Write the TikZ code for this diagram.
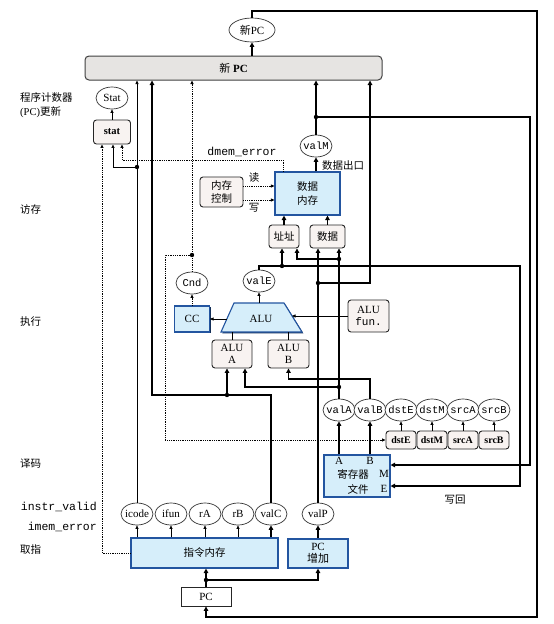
\documentclass[tikz,border=0pt]{standalone}
\usepackage{fontspec}
\setmainfont{Liberation Serif}
\setmonofont{Liberation Mono}
\newfontfamily\cjk{Noto Sans CJK SC}
\usetikzlibrary{arrows.meta,shadows,shapes.geometric}
\definecolor{hwfill}{RGB}{214,238,250}
\definecolor{hwblue}{RGB}{35,85,160}
\definecolor{ctlfill}{RGB}{248,243,241}
\definecolor{pcfill}{RGB}{230,228,226}
\begin{document}
\begin{tikzpicture}[x=1pt,y=-1pt,
  every node/.style={font=\fontsize{11}{11.5}\selectfont, inner sep=0pt},
  hw/.style={draw=hwblue, fill=hwfill, line width=1.1pt, align=center,
     drop shadow={shadow xshift=1.4pt, shadow yshift=-1.4pt, fill=hwblue!55!black, opacity=1}},
  ctl/.style={draw=black!85, fill=ctlfill, line width=0.9pt, rounded corners=3pt, align=center},
  cjkf/.style={font=\cjk\fontsize{10.5}{13.5}\selectfont},
  sig/.style={ellipse, draw=black!80, fill=white, line width=0.7pt, minimum width=32pt, minimum height=22pt, inner xsep=-3pt, inner ysep=0pt, font=\fontsize{11}{11.5}\selectfont},
  tsig/.style={sig, font=\ttfamily\fontsize{10.5}{11}\selectfont},
  small/.style={ctl, minimum width=30pt, minimum height=18pt, font=\bfseries\fontsize{10}{11}\selectfont},
  side/.style={anchor=west, font=\cjk\fontsize{10.5}{12}\selectfont},
  ttlab/.style={font=\ttfamily\fontsize{11.5}{12}\selectfont},
  bus/.style={line width=1.7pt},
  busa/.style={bus, -{Triangle[length=4.5pt,width=4.5pt]}},
  wire/.style={line width=0.7pt},
  wirea/.style={wire, -{Triangle[length=3.5pt,width=3pt]}},
  bitw/.style={line width=0.8pt, densely dotted},
  bita/.style={bitw, -{Triangle[length=3.5pt,width=3pt]}},
  jdot/.style={fill=black}
]
\useasboundingbox (0,0) rectangle (554,624);
\fill[white] (0,0) rectangle (554,624);

% ---------- side labels ----------
\node[side] (l1) at (20,97) {程序计数器};
\node[anchor=west, font=\fontsize{10.5}{12}\selectfont] (l2) at (20,112) {(PC){\cjk 更新}};
\node[side] (l3) at (20,210) {访存};
\node[side] (l4) at (20,322) {执行};
\node[side] (l5) at (20,464) {译码};
\node[ttlab, anchor=east] (l6) at (97,507) {instr\_valid};
\node[ttlab, anchor=east] (l7) at (97,527) {imem\_error};
\node[side] (l8) at (20,550) {取指};

% ---------- PC update ----------
\node[draw=black!75, fill=pcfill, rounded corners=4pt, line width=1pt,
      minimum width=297pt, minimum height=24pt] (newpc) at (233.5,68) {{\cjk 新} \textbf{PC}};
\node[sig, minimum width=46pt, minimum height=24pt] (newpcE) at (252,30) {{\cjk 新}PC};
\node[sig] (StatE) at (112,98) {Stat};
\node[ctl, minimum width=37pt, minimum height=24pt, font=\bfseries\fontsize{10.5}{11}\selectfont] (stat) at (112,132) {stat};

% ---------- memory ----------
\node[ctl, cjkf, minimum width=43pt, minimum height=30pt] (memctl) at (221.5,192) {内存\\控制};
\node[hw, cjkf, minimum width=65pt, minimum height=43pt] (dmem) at (307.5,193.5) {数据\\内存};
\node[tsig] (valM) at (316,146) {valM};
\node[ctl, cjkf, minimum width=30pt, minimum height=23pt] (addr) at (284,236.5) {址址};
\node[ctl, cjkf, minimum width=35pt, minimum height=23pt] (data) at (327.5,236.5) {数据};
\node[ttlab] (dmerr) at (242,152) {dmem\_error};
\node[cjkf] (rd) at (254,178) {读};
\node[cjkf] (wr) at (254,208) {写};
\node[cjkf] (dout) at (343,166) {数据出口};

% ---------- execute ----------
\node[tsig] (Cnd) at (192,283) {Cnd};
\node[tsig] (valE) at (259,281) {valE};
\node[hw, minimum width=35pt, minimum height=26pt] (CC) at (192,319) {CC};
\coordinate (aluBL) at (221,332);
\coordinate (aluTL) at (234,303);
\coordinate (aluTR) at (284,303);
\coordinate (aluBR) at (302,332);
\path[hw] (aluBL) -- (aluTL) -- (aluTR) -- (aluBR) -- cycle;
\node (alu) at (261,319) {ALU};
\coordinate (aluT) at (259,303);
\coordinate (aluL) at (226.8,319);
\coordinate (aluR) at (292,316);
\node[ctl, minimum width=40pt, minimum height=28pt] (aluA) at (232,354) {ALU\\A};
\node[ctl, minimum width=41pt, minimum height=28pt] (aluB) at (288.5,354) {ALU\\B};
\node[ctl, minimum width=41pt, minimum height=32pt] (aluf) at (368.5,316) {ALU\\\texttt{fun.}};

% ---------- decode ----------
\node[tsig] (valA) at (339,410) {valA};
\node[tsig] (valB) at (370,410) {valB};
\node[tsig] (dstE) at (401,410) {dstE};
\node[tsig] (dstM) at (432,410) {dstM};
\node[tsig] (srcA) at (463,410) {srcA};
\node[tsig] (srcB) at (494,410) {srcB};
\node[small] (dstEb) at (401,440) {dstE};
\node[small] (dstMb) at (432,440) {dstM};
\node[small] (srcAb) at (463,440) {srcA};
\node[small] (srcBb) at (494,440) {srcB};
\node[hw, minimum width=66pt, minimum height=42pt] (regfile) at (357,476) {};
\node (rfA) at (339,461) {A};
\node (rfB) at (370,461) {B};
\node[cjkf] (rfT) at (353,474) {寄存器};
\node (rfM) at (384,474) {M};
\node[cjkf] (rfF) at (358,489) {文件};
\node (rfE) at (384,489) {E};
\node[cjkf] (wb) at (455,500) {写回};

% ---------- fetch ----------
\node[hw, cjkf, minimum width=147pt, minimum height=30pt] (imem) at (204.5,553) {指令内存};
\node[hw, minimum width=60pt, minimum height=29pt] (pcinc) at (318,553.5) {PC\\{\cjk 增加}};
\node[sig] (icode) at (137,514) {icode};
\node[sig] (ifun) at (171,514) {ifun};
\node[sig] (rA) at (205,514) {rA};
\node[sig] (rB) at (238,514) {rB};
\node[sig] (valC) at (271,514) {valC};
\node[sig] (valP) at (318,514) {valP};
\node[draw=black!85, fill=white, line width=0.9pt, minimum width=50pt, minimum height=19pt] (PC) at (206,596.5) {PC};

% ---------- junctions and bends ----------
\coordinate (topL) at (252,11);
\coordinate (topR) at (537,11);
\coordinate (botR) at (537,617);
\coordinate (botL) at (206,617);
\coordinate (jpc) at (206,580);
\coordinate (jic) at (137,167);
\coordinate (dmc) at (283,160);
\coordinate (vc1) at (271,395);
\coordinate (vc2) at (152,395);
\coordinate (jvc) at (227,395);
\coordinate (jva1) at (339,387);
\coordinate (jva2) at (339,259);
\coordinate (vb1) at (370,379);
\coordinate (jvp) at (318,283);
\coordinate (vp2) at (370,283);
\coordinate (ve1) at (259,266);
\coordinate (ve2) at (520,266);
\coordinate (jve) at (282,266);
\coordinate (jvm) at (316,117);
\coordinate (vm2) at (530,117);
\coordinate (jcnd) at (192,255);
\coordinate (cn2) at (165,255);

% ---------- wires ----------
\draw[busa] (newpcE.south |- newpc.north) -- (newpcE.south);
\draw[busa] (newpcE.north) -- (topL) -- (topR) -- (botR) -- (botL) -- (PC.south);
\draw[bus] (PC.north) -- (jpc);
\draw[busa] (jpc) -- (jpc |- imem.south);
\draw[busa] (jpc) -| (pcinc.south);

\draw[wirea] (icode.south |- imem.north) -- (icode.south);
\draw[wirea] (ifun.south |- imem.north) -- (ifun.south);
\draw[wirea] (rA.south |- imem.north) -- (rA.south);
\draw[wirea] (rB.south |- imem.north) -- (rB.south);
\draw[busa] (valC.south |- imem.north) -- (valC.south);
\draw[busa] (pcinc.north) -- (valP.south);

% icode
\draw[wirea] (icode.north) -- (icode.north |- newpc.south);
\draw[wirea] (jic) -| ([xshift=1pt]stat.south);
% imem_error / instr_valid
\draw[bita] (imem.west) -| ([xshift=-10pt]stat.south);
% dmem_error
\draw[bita] (dmem.north -| dmc) -- (dmc) -| ([xshift=10pt]stat.south);
\draw[wirea] (stat.north) -- (StatE.south);

% valC
\draw[busa] (valC.north) -- (vc1) -- (vc2) -- (vc2 |- newpc.south);
\draw[busa] (jvc) -- (jvc |- aluA.south);

% valA
\draw[busa] (valA.north) -- (valA.north |- data.south);
\draw[busa] (jva1) -| ([xshift=13pt]aluA.south);
\draw[busa] (jva2) -| ([xshift=13pt]addr.south);

% valB
\draw[busa] (valB.north) -- (vb1) -| (aluB.south);

% valP
\draw[busa] (valP.north) -- (valP.north |- data.south);
\draw[busa] (jvp) -- (vp2) -- (vp2 |- newpc.south);

% valE
\draw[wirea] (aluT) -- (valE.south);
\draw[busa] (valE.north) -- (ve1) -- (ve2) |- ([yshift=-10pt]regfile.east);
\draw[busa] (jve) -- (jve |- addr.south);

% valM
\draw[busa] (dmem.north -| valM) -- (valM.south);
\draw[busa] (valM.north) -- (valM.north |- newpc.south);
\draw[busa] (jvm) -- (vm2) |- ([yshift=11pt]regfile.east);

% memory
\draw[busa] (addr.north) -- (addr.north |- dmem.south);
\draw[busa] (data.north) -- (data.north |- dmem.south);
\draw[bita] ([yshift=6pt]memctl.east) -- ([yshift=6pt]memctl.east -| dmem.west);
\draw[bita] ([yshift=-8pt]memctl.east) -- ([yshift=-8pt]memctl.east -| dmem.west);

% execute
\draw[wirea] (aluL) -- (CC.east);
\draw[bita] (CC.north) -- (Cnd.south);
\draw[bita] (Cnd.north) -- (jcnd |- newpc.south);
\draw[bita] (jcnd) -- (cn2) |- (dstEb.west);
\draw[wirea] (aluf.west) -- (aluR);
\draw[line width=1pt] (aluA.north) -- (aluA.north |- aluBL);
\draw[line width=1pt] (aluB.north) -- (aluB.north |- aluBL);

% decode
\draw[busa] (regfile.north -| valA) -- (valA.south);
\draw[busa] (regfile.north -| valB) -- (valB.south);
\draw[wirea] (dstEb.north) -- (dstE.south);
\draw[wirea] (dstMb.north) -- (dstM.south);
\draw[wirea] (srcAb.north) -- (srcA.south);
\draw[wirea] (srcBb.north) -- (srcB.south);

% junction dots
\foreach \j in {jpc,jic,jvc,jva1,jva2,jvp,jve,jvm,jcnd}
  \fill[jdot] (\j) circle (2.2);
\end{tikzpicture}
\end{document}
